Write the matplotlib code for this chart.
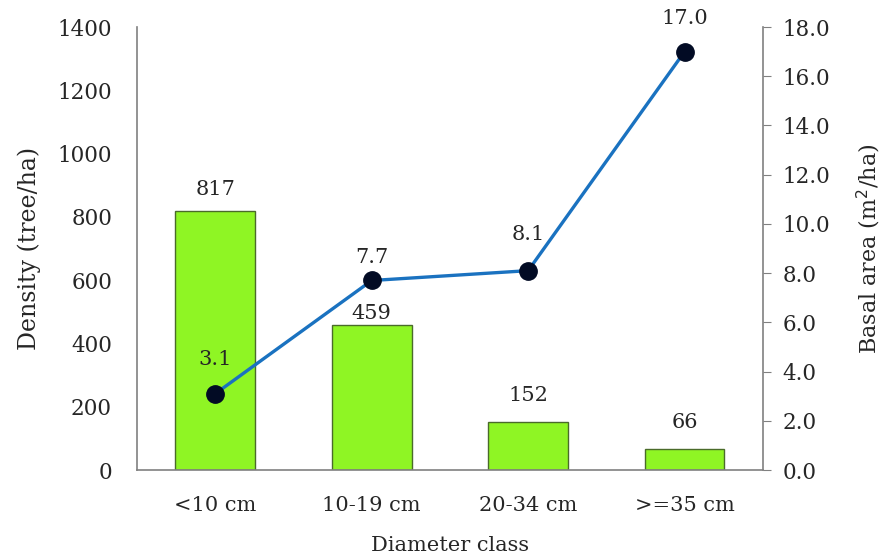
import matplotlib
matplotlib.use("Agg")
import matplotlib.pyplot as plt
from matplotlib.ticker import FormatStrFormatter

plt.rcParams['font.family'] = ['DejaVu Serif']

categories = ["<10 cm", "10-19 cm", "20-34 cm", ">=35 cm"]
density = [817, 459, 152, 66]
basal_area = [3.1, 7.7, 8.1, 17.0]
density_ticks = [0, 200, 400, 600, 800, 1000, 1200, 1400]
basal_ticks = [0, 2, 4, 6, 8, 10, 12, 14, 16, 18]

TXT = "#262626"
fig = plt.figure(figsize=(8.87, 5.58), dpi=100)
ax = fig.add_axes([0.1545, 0.1577, 0.7055, 0.7939])
x = list(range(len(categories)))

ax.bar(x, density, width=0.51, color="#8ff524", edgecolor="#4a6b2a", linewidth=1.0, zorder=2)
ax.set_xlim(-0.5, len(categories) - 0.5)
ax.set_ylim(0, 1400)
ax.set_yticks(density_ticks)
ax.set_xticks(x)
ax.set_xticklabels(categories)
ax.tick_params(axis="y", length=0, labelsize=15.5, colors=TXT, pad=18)
ax.tick_params(axis="x", length=0, labelsize=15, colors=TXT, pad=19)
for s in ["top", "right"]:
    ax.spines[s].set_visible(False)
for s in ["left", "bottom"]:
    ax.spines[s].set_color("#808080")
    ax.spines[s].set_linewidth(1.2)
ax.set_ylabel("Density (tree/ha)", fontsize=17, color=TXT, labelpad=12)
ax.set_xlabel("Diameter class", fontsize=15, color=TXT, labelpad=15)

bar_offsets = [9, 1, 12, 12]
for xi, v, off in zip(x, density, bar_offsets):
    ax.annotate(f"{v}", (xi, v), xytext=(0, off), textcoords="offset points",
                ha="center", va="bottom", fontsize=15, color=TXT)

ax2 = ax.twinx()
ax2.set_ylim(0, 18)
ax2.set_yticks(basal_ticks)
ax2.yaxis.set_major_formatter(FormatStrFormatter("%.1f"))
ax2.plot(x, basal_area, color="#1a72c0", linewidth=2.4, marker="o", markersize=12.5,
         markerfacecolor="#020b24", markeredgecolor="#020b24", zorder=3)
for s in ["top", "left", "bottom"]:
    ax2.spines[s].set_visible(False)
ax2.spines["right"].set_color("#808080")
ax2.spines["right"].set_linewidth(1.2)
ax2.tick_params(axis="y", direction="out", length=6, color="#808080", labelsize=15.5,
                labelcolor=TXT, pad=8)
ax2.set_ylabel("Basal area (m$^2$/ha)", fontsize=16, color=TXT, labelpad=18)

line_offsets = [18, 10, 19, 17]
for xi, v, off in zip(x, basal_area, line_offsets):
    ax2.annotate(f"{v:.1f}", (xi, v), xytext=(0, off), textcoords="offset points",
                 ha="center", va="bottom", fontsize=15, color=TXT)

fig.savefig("out.png", dpi=100)
